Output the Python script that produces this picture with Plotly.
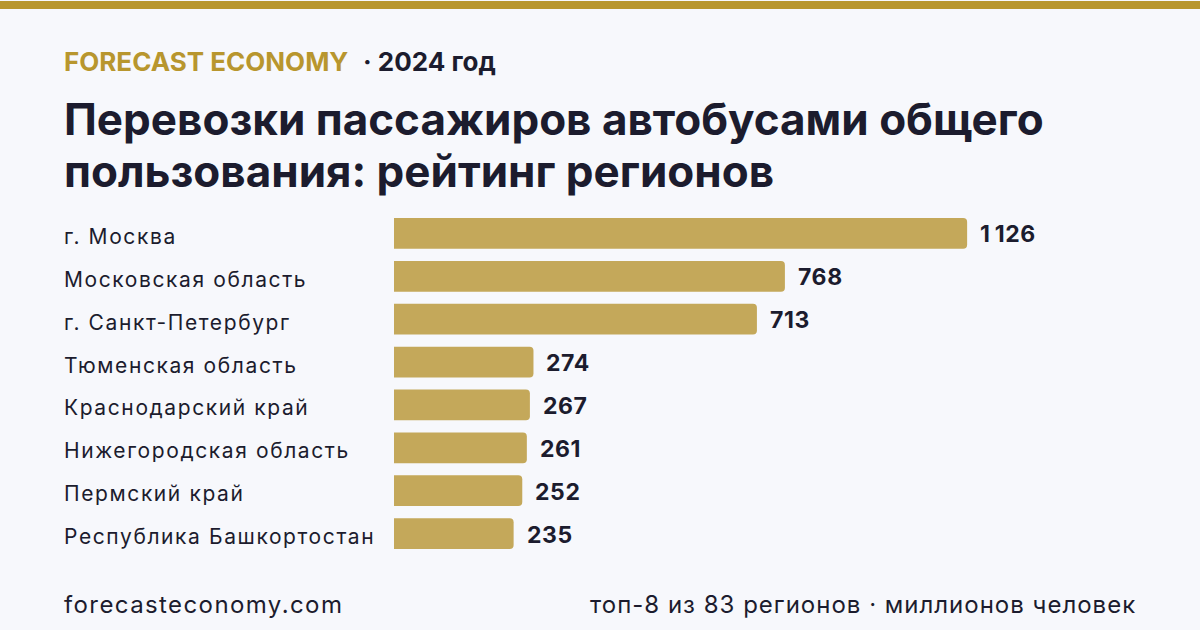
import plotly.graph_objects as go

regions = ["г. Москва", "Московская область", "г. Санкт-Петербург", "Тюменская область",
           "Краснодарский край", "Нижегородская область", "Пермский край", "Республика Башкортостан"]
values = [1126, 768, 713, 274, 267, 261, 252, 235]

W, H = 1200, 630
ML, MR, MT, MB = 394, 65, 211.5, 74.5
PW, PH = W - ML - MR, H - MT - MB
XMAX = PW / 0.509

def px_x(px):
    return (px - ML) / PW

def px_y(py):
    return (H - MB - py) / PH

BG = "#f7f8fc"
GOLD = "#b8962e"
BAR = "#c4a85a"
DARK = "#1c1c2e"
FONT = "Inter"

def fmt(v):
    return f"{v:,}".replace(",", "\u2009")

def ls(text, sp):
    return f"<span style='letter-spacing:{sp}px'>{text}</span>"

fig = go.Figure(go.Bar(
    x=values, y=regions, orientation="h",
    marker=dict(color=BAR, line=dict(width=0)),
    width=0.72, hoverinfo="skip",
))

ann = []
for r, v in zip(regions, values):
    ann.append(dict(x=px_x(62), xref="paper", y=r, yref="y", text=ls(r, 1.6), showarrow=False,
                    xanchor="left", yanchor="middle", yshift=-3,
                    font=dict(size=21, color=DARK, family=FONT)))
    ann.append(dict(x=v, xref="x", y=r, yref="y", text=f"<b>{ls(fmt(v), 0.6)}</b>", showarrow=False,
                    xanchor="left", yanchor="middle", xshift=11, yshift=-1,
                    font=dict(size=23, color=DARK, family=FONT)))

ann.append(dict(x=px_x(62), xref="paper", y=px_y(61), yref="paper",
                text=f"<b><span style='color:{GOLD}'>FORECAST ECONOMY</span></b>  <b>· 2024 год</b>",
                showarrow=False, xanchor="left", yanchor="middle",
                font=dict(size=26, color=DARK, family=FONT)))
ann.append(dict(x=px_x(62), xref="paper", y=px_y(118), yref="paper",
                text="<b>Перевозки пассажиров автобусами общего</b>",
                showarrow=False, xanchor="left", yanchor="middle", align="left",
                font=dict(size=44, color=DARK, family=FONT)))
ann.append(dict(x=px_x(62), xref="paper", y=px_y(170), yref="paper",
                text="<b>пользования: рейтинг регионов</b>",
                showarrow=False, xanchor="left", yanchor="middle", align="left",
                font=dict(size=44, color=DARK, family=FONT)))
ann.append(dict(x=px_x(62), xref="paper", y=px_y(605), yref="paper",
                text=ls("forecasteconomy.com", 1.4), showarrow=False, xanchor="left", yanchor="middle",
                font=dict(size=24, color=DARK, family=FONT)))
ann.append(dict(x=px_x(1138), xref="paper", y=px_y(605), yref="paper",
                text=ls("топ-8 из 83 регионов · миллионов человек", 1.0), showarrow=False,
                xanchor="right", yanchor="middle",
                font=dict(size=24, color=DARK, family=FONT)))

fig.update_layout(
    width=W, height=H,
    margin=dict(l=ML, r=MR, t=MT, b=MB),
    paper_bgcolor=BG, plot_bgcolor=BG,
    barcornerradius=4,
    showlegend=False,
    xaxis=dict(range=[0, XMAX], visible=False, fixedrange=True),
    yaxis=dict(autorange="reversed", showticklabels=False, showgrid=False, zeroline=False,
               showline=False, ticks="", fixedrange=True),
    annotations=ann,
    shapes=[dict(type="rect", xref="paper", yref="paper", x0=px_x(0), x1=px_x(W),
                 y0=px_y(8), y1=px_y(0), fillcolor=GOLD, line=dict(width=0), layer="above")],
    font=dict(family=FONT),
)

fig.write_html("out.html", config={"displayModeBar": False})
